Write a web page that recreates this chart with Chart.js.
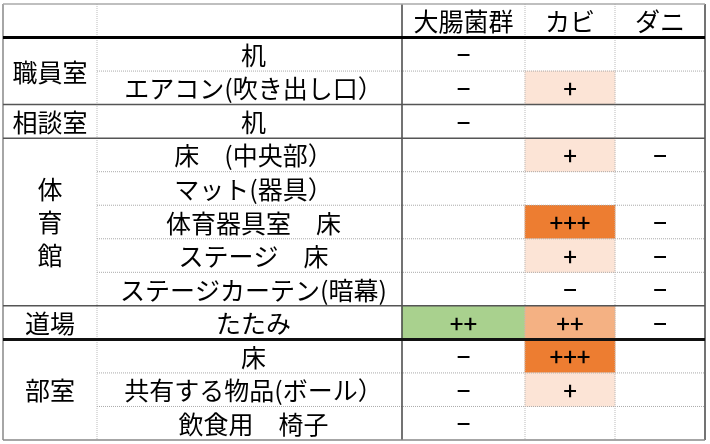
<!DOCTYPE html>
<html><head><meta charset="utf-8">
<script src="https://cdn.jsdelivr.net/npm/chart.js@4"></script>
<style>html,body{margin:0;padding:0;background:#fff}#c{display:block}</style>
</head><body>
<div style="width:710px;height:444px"><canvas id="c"></canvas></div>
<script>
const colNames = ['大腸菌群','カビ','ダニ'];
const rooms = ['職員室','相談室','体育館','道場','部室'];
const roomSpans = [2,1,5,1,3];
const items = ['机','エアコン(吹き出し口）','机','床　(中央部）','マット(器具）','体育器具室　床','ステージ　床','ステージカーテン(暗幕)','たたみ','床','共有する物品(ボール）','飲食用　椅子'];
const coliform = ['−','−','−','','','','','','++','−','−','−'];
const mold = ['','+','','+','','+++','+','−','++','+++','+',''];
const mite = ['','','','−','','−','−','−','−','','',''];

const values = [coliform, mold, mite];
const colEdges = [3,97,402,525,615,705];
const rowIds = ['header', ...items.map((t,i)=>i+':'+t)];
function cellColor(col, v){
  if (col===0 && v==='++') return '#A9D18E';
  if (v==='+') return '#FCE4D6';
  if (v==='++') return '#F4B183';
  if (v==='+++') return '#ED7D31';
  return null;
}
const bars = [], colors = [];
values.forEach((arr,c)=>arr.forEach((v,r)=>{
  const col = cellColor(c,v);
  if (col){ bars.push({x:[colEdges[c+2], colEdges[c+3]], y: rowIds[r+1]}); colors.push(col); }
}));

const F = '"Noto Sans CJK JP","Noto Sans",sans-serif';
const tablePlugin = {
  id:'table',
  afterDatasetsDraw(chart){
    const ctx = chart.ctx, y = chart.scales.y, x = chart.scales.x;
    const band = y.getPixelForValue(1) - y.getPixelForValue(0);
    const top = i => y.getPixelForValue(i) - band/2;
    const px = v => x.getPixelForValue(v);
    const N = rowIds.length;
    function line(x1,y1,x2,y2,w,c,dash){
      ctx.save(); ctx.beginPath(); ctx.lineWidth=w; ctx.strokeStyle=c; ctx.setLineDash(dash||[]);
      ctx.moveTo(x1,y1); ctx.lineTo(x2,y2); ctx.stroke(); ctx.restore();
    }
    let r = 1; const groupEnds = [];
    roomSpans.forEach(s=>{ for(let k=1;k<s;k++) line(px(colEdges[1]),top(r+k),px(colEdges[5]),top(r+k),1,'#aaa',[1,1]); r+=s; groupEnds.push(r); });
    line(px(colEdges[1]),top(0),px(colEdges[1]),top(N),1,'#bbb',[1,1]);
    line(px(colEdges[3]),top(0),px(colEdges[3]),top(N),1,'#bbb',[1,1]);
    line(px(colEdges[4]),top(0),px(colEdges[4]),top(N),1,'#bbb',[1,1]);
    line(px(colEdges[0]),top(0),px(colEdges[0]),top(N),1.5,'#888');
    line(px(colEdges[2]),top(0),px(colEdges[2]),top(N),1.5,'#444');
    line(px(colEdges[5]),top(0),px(colEdges[5]),top(N),1.5,'#444');
    line(px(colEdges[0]),top(0),px(colEdges[5]),top(0),1.5,'#aaa');
    line(px(colEdges[0]),top(1),px(colEdges[5]),top(1),3,'#000');
    groupEnds.forEach((g,i)=>{
      const thick = rooms[i]==='道場';
      const last = i===groupEnds.length-1;
      line(px(colEdges[0]),top(g),px(colEdges[5]),top(g), thick?3:1.5, thick?'#111':(last?'#888':'#555'));
    });
    ctx.save(); ctx.fillStyle='#000'; ctx.textAlign='center'; ctx.textBaseline='middle';
    ctx.font = '25px '+F;
    colNames.forEach((n,c)=>ctx.fillText(n,(px(colEdges[c+2])+px(colEdges[c+3]))/2, y.getPixelForValue(0)+1));
    items.forEach((t,i)=>ctx.fillText(t,(px(colEdges[1])+px(colEdges[2]))/2+4, y.getPixelForValue(i+1)+1));
    r = 1;
    rooms.forEach((n,i)=>{
      const s = roomSpans[i], cx = (px(colEdges[0])+px(colEdges[1]))/2;
      const t0 = top(r), t1 = top(r+s);
      if (s>=4){
        const mid=(t0+t1)/2;
        [...n].forEach((ch,k)=>ctx.fillText(ch,cx,mid+(k-(n.length-1)/2)*33));
      } else ctx.fillText(n,cx,(t0+t1)/2+1);
      r+=s;
    });
    ctx.font = '500 24px '+F;
    values.forEach((arr,c)=>arr.forEach((v,ri)=>{
      if(!v) return;
      ctx.fillText(v,(px(colEdges[c+2])+px(colEdges[c+3]))/2, y.getPixelForValue(ri+1)+1);
    }));
    ctx.restore();
  }
};

new Chart(document.getElementById('c'),{
  type:'bar',
  data:{labels:rowIds, datasets:[{data:bars, backgroundColor:colors, borderWidth:0, borderSkipped:false, barPercentage:1, categoryPercentage:1}]},
  options:{
    indexAxis:'y', responsive:true, maintainAspectRatio:false, animation:false,
    layout:{padding:{top:4,bottom:4,left:0,right:0}},
    plugins:{legend:{display:false},tooltip:{enabled:false}},
    scales:{
      x:{type:'linear',min:0,max:710,display:false},
      y:{type:'category',display:false,offset:true,grid:{offset:true}}
    }
  },
  plugins:[tablePlugin]
});
</script>
</body></html>
